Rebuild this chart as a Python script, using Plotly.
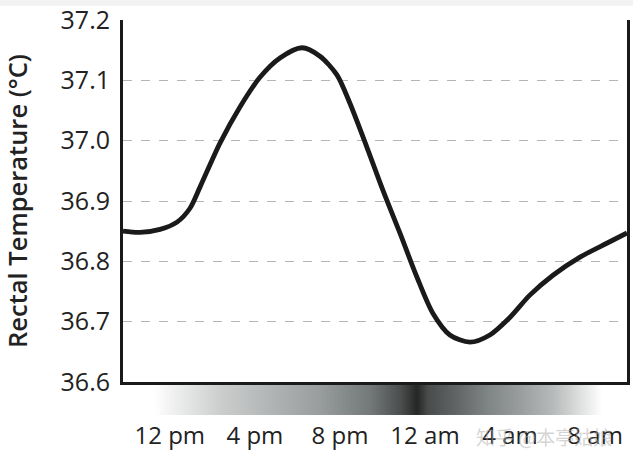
import plotly.graph_objects as go

# hours since midnight of day 1 (24 = midnight), temperature in deg C
hours = [9.80, 10.60, 11.54, 12.34, 12.95, 13.42, 14.36, 15.30, 16.24, 17.18,
         18.22, 19.06, 19.86, 20.47, 21.27, 22.02, 22.82, 23.62, 24.37, 25.17,
         26.11, 27.05, 27.99, 28.93, 30.02, 31.29, 32.55, 33.50]
temps = [36.850, 36.848, 36.853, 36.865, 36.888, 36.923, 36.996, 37.056, 37.105, 37.137,
         37.154, 37.140, 37.109, 37.062, 36.989, 36.918, 36.847, 36.774, 36.714, 36.678,
         36.666, 36.678, 36.707, 36.744, 36.777, 36.807, 36.830, 36.847]

tick_hours = [12, 16, 20, 24, 28, 32]
tick_labels = ['12 pm', '4 pm', '8 pm', '12 am', '4 am', '8 am']

# light/dark band under the axis (1 = white, 0 = black)
shade_hours = [11.3, 12.0, 14.4, 16.7, 19.1, 21.4, 22.9, 23.62, 24.1, 25.3,
               26.9, 28.4, 30.0, 31.5, 32.3]
shade_level = [1.0, 0.95, 0.80, 0.70, 0.60, 0.45, 0.25, 0.08, 0.25, 0.35,
               0.50, 0.60, 0.72, 0.90, 1.0]

xr = [9.8, 33.5]
font = 'Open Sans, Noto Sans, sans-serif'

fig = go.Figure()

fig.add_trace(go.Scatter(
    x=hours, y=temps,
    mode='lines',
    line=dict(color='#1a1a1a', width=4.8, shape='spline', smoothing=0.8),
    hoverinfo='skip', showlegend=False
))

fig.add_trace(go.Heatmap(
    x=shade_hours, y=[0, 1],
    z=[shade_level, shade_level],
    zmin=0, zmax=1,
    colorscale=[[0, '#141414'], [0.5, '#7f8484'], [1, '#ffffff']],
    zsmooth='best', showscale=False, hoverinfo='skip',
    xaxis='x2', yaxis='y2'
))

fig.update_layout(
    width=633, height=457,
    margin=dict(l=123, r=6, t=20, b=42),
    paper_bgcolor='white', plot_bgcolor='white',
    font=dict(family=font, color='#222222'),
    showlegend=False,
    xaxis=dict(
        range=xr, showgrid=False, zeroline=False, showticklabels=False,
        showline=True, linecolor='#1a1a1a', linewidth=3, ticks='',
        automargin=False
    ),
    yaxis=dict(
        domain=[0.0835, 1], range=[36.6, 37.2],
        tickvals=[36.6, 36.7, 36.8, 36.9, 37.0, 37.1, 37.2],
        ticktext=['36.6', '36.7', '36.8', '36.9', '37.0', '37.1', '37.2'],
        tickfont=dict(size=25, color='#222222'),
        showgrid=True, gridcolor='#b5b5b5', gridwidth=1, griddash='dash',
        zeroline=False, showline=True, mirror=True,
        linecolor='#1a1a1a', linewidth=3, ticks='',
        ticklabelstandoff=5, automargin=False,
        title=dict(text='Rectal Temperature (°C)', standoff=28,
                   font=dict(size=25.5, color='#222222', weight=600))
    ),
    xaxis2=dict(
        anchor='y2', range=xr, showgrid=False, zeroline=False,
        showline=False, ticks='', automargin=False,
        tickvals=tick_hours, ticktext=tick_labels,
        tickfont=dict(size=24, color='#222222'),
        ticklabelstandoff=4
    ),
    yaxis2=dict(
        domain=[0, 0.076], range=[0, 1], visible=False, fixedrange=True
    ),
    shapes=[
        dict(type='rect', xref='paper', yref='paper',
             x0=-0.3, x1=1.05, y0=1.036, y1=1.06,
             fillcolor='#f2f2f2', line=dict(width=0), layer='below')
    ],
    annotations=[
        dict(text='知乎 @本亭姑娘', xref='paper', yref='paper',
             x=0.975, y=-0.055, xanchor='right', yanchor='middle',
             showarrow=False,
             font=dict(family='Noto Sans CJK SC', size=19,
                       color='rgba(170,170,170,0.5)'))
    ]
)

# page body has a default 8px margin, drop it so the figure sits at 0,0
fig.write_html("out.html", config={'displayModeBar': False},
               post_script="document.body.style.margin='0';")
